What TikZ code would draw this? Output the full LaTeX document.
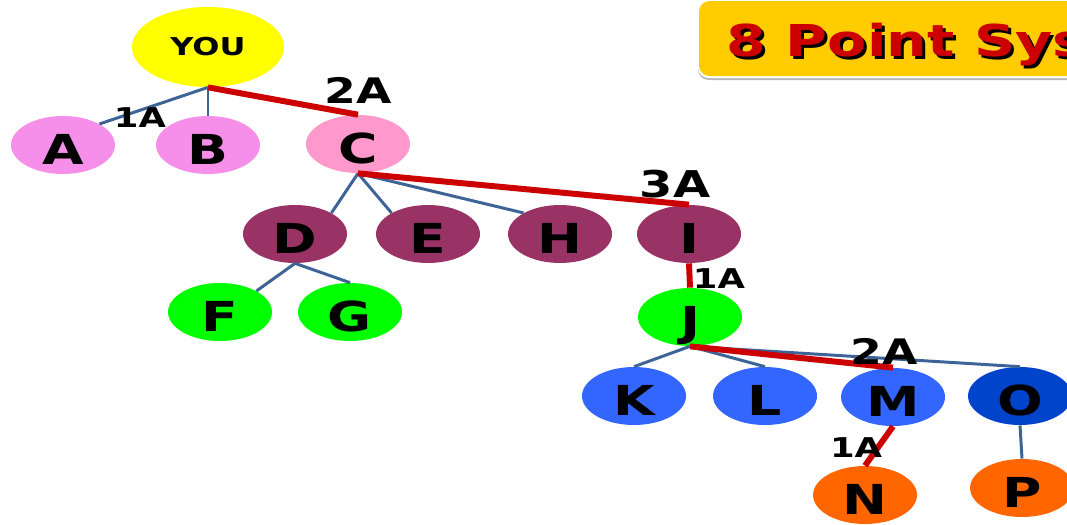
\documentclass[tikz,border=0pt]{standalone}
\usepackage{xcolor}
\usepackage{fontspec}
\usepackage{tikz}
\usetikzlibrary{shapes.geometric}

\newfontfamily\slidefont[FakeStretch=1.3]{DejaVu Sans}

\definecolor{youyellow}{HTML}{FFFF00}
\definecolor{friendpink}{HTML}{F58FEA}
\definecolor{sponsorpink}{HTML}{FF99CC}
\definecolor{plum}{HTML}{993366}
\definecolor{lime}{HTML}{00FF00}
\definecolor{royal}{HTML}{3366FF}
\definecolor{navy}{HTML}{0044CC}
\definecolor{tangerine}{HTML}{FF6600}
\definecolor{linkblue}{HTML}{3D6496}
\definecolor{pathred}{HTML}{CC0000}
\definecolor{titlegold}{HTML}{FFCC00}

\begin{document}
\begin{tikzpicture}[x=0.02cm, y=-0.02cm,
    person/.style={ellipse, minimum width=2.08cm, minimum height=1.16cm, inner sep=0pt,
                   text height=22pt, text depth=0pt,
                   font=\slidefont\bfseries\fontsize{23.5}{23.5}\selectfont},
    link/.style={draw=linkblue, line width=1.7pt},
    hot/.style={draw=pathred, line width=3.4pt},
    bigcost/.style={inner sep=0pt, font=\slidefont\bfseries\fontsize{20}{20}\selectfont},
    smallcost/.style={inner sep=0pt, font=\slidefont\bfseries\fontsize{15.5}{15.5}\selectfont}]
      \path[use as bounding box, clip] (0,0) rectangle (1067,524);

      % Title banner
      \fill[gray!55, rounded corners=6pt] (698,4) rectangle (1130,80);
      \fill[white, rounded corners=6pt] (698,1) rectangle (1130,78);
      \fill[titlegold, rounded corners=6pt] (699,1) rectangle (1130,76);
      \node[anchor=base west, inner sep=0pt, text=black,
            font=\slidefont\bfseries\fontsize{25}{25}\selectfont] (titleshadow) at (729,59) {8 Point System};
      \node[anchor=base west, inner sep=0pt, text=pathred,
            font=\slidefont\bfseries\fontsize{25}{25}\selectfont] (title) at (726,56) {8 Point System};

      % People
      \node[person, fill=youyellow, minimum width=3.04cm, minimum height=1.6cm,
            text height=10pt, font=\slidefont\bfseries\fontsize{14}{14}\selectfont] (you) at (208,47) {YOU};
      \node[person, fill=friendpink] (a) at (63,145) {A};
      \node[person, fill=friendpink] (b) at (208,145) {B};
      \node[person, fill=sponsorpink] (c) at (358,144) {C};
      \node[person, fill=plum] (d) at (295,234) {D};
      \node[person, fill=plum] (e) at (428,234) {E};
      \node[person, fill=plum] (h) at (560,234) {H};
      \node[person, fill=plum] (i) at (689,234) {I};
      \node[person, fill=lime] (f) at (220,312) {F};
      \node[person, fill=lime] (g) at (350,312) {G};
      \node[person, fill=lime] (j) at (690,317) {J};
      \node[person, fill=royal] (k) at (634,396) {K};
      \node[person, fill=royal] (l) at (765,396) {L};
      \node[person, fill=royal] (m) at (893,397) {M};
      \node[person, fill=navy] (o) at (1020,396) {O};
      \node[person, fill=tangerine] (n) at (865,495) {N};
      \node[person, fill=tangerine] (p) at (1022,488) {P};

      % Links
      \draw[link] (you.south) -- (a.30);
      \draw[link] (you.south) -- (b.north);
      \draw[hot] (you.south) -- (c.north);
      \draw[link] (c.south) -- (d.30);
      \draw[link] (c.south) -- (e.150);
      \draw[link] (c.south) -- (h.150);
      \draw[hot] (c.south) -- (i.north);
      \draw[link] (d.south) -- (f.30);
      \draw[link] (d.south) -- (g.north);
      \draw[hot] (i.south) -- (j.north);
      \draw[link] (j.south) -- (k.north);
      \draw[link] (j.south) -- (l.north);
      \draw[link] (j.south) -- (o.north);
      \draw[hot] (j.south) -- (m.north);
      \draw[hot] (m.south) -- (n.north);
      \draw[link] (o.south) -- (p.north);

      % Costs
      \node[smallcost] (costab) at (140,118) {1A};
      \node[bigcost] (costc) at (358,90) {2A};
      \node[bigcost, font=\slidefont\bfseries\fontsize{21}{21}\selectfont] (costi) at (675,184) {3A};
      \node[smallcost] (costj) at (719,279) {1A};
      \node[bigcost] (costm) at (884,351) {2A};
      \node[smallcost] (costn) at (856,448) {1A};
\end{tikzpicture}
\end{document}
